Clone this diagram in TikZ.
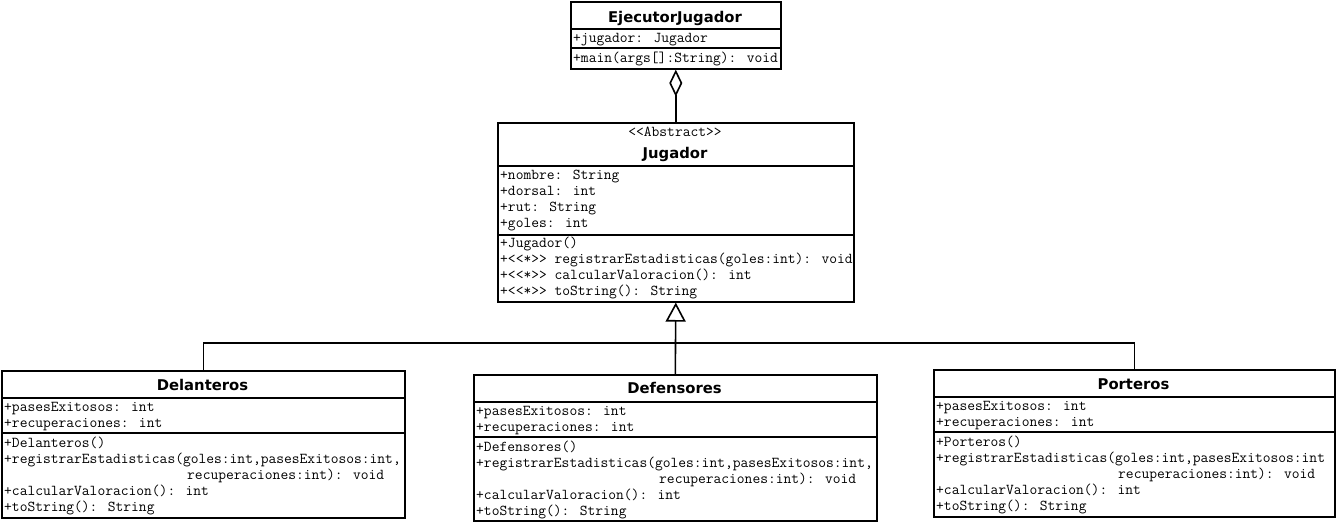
\documentclass[tikz,border=0pt]{standalone}
\usepackage{fontspec}
\usetikzlibrary{arrows.meta}
\newfontfamily\umltitle{DejaVu Sans}
\newcommand\umlln[4]{\node[mono,anchor=base west] (#1) at (#2,#3) {#4};}
\newcommand\umlttl[4]{\node[ttl,anchor=base] (#1) at (#2,#3) {#4};}
\begin{document}
\begin{tikzpicture}[x=1pt,y=-1pt,
  cls/.style={draw,line width=1.6pt,fill=white,inner sep=0pt,anchor=north west},
  sep/.style={line width=1.6pt},
  mono/.style={inner sep=0pt,font=\ttfamily\fontsize{15.1}{16}\selectfont},
  ttl/.style={inner sep=0pt,font=\umltitle\bfseries\fontsize{14.8}{16}\selectfont},
  conn/.style={line width=1.6pt},
  agg/.style={conn,{Diamond[open,length=27pt,width=13pt,line width=1.6pt]}-},
  gen/.style={conn,-{Triangle[open,length=19pt,width=20pt,line width=1.6pt]}}]
\useasboundingbox (0,0) rectangle (1336,522);
\fill[white] (0,0) rectangle (1336,522);

% EjecutorJugador
\node[cls,minimum width=210pt,minimum height=67pt] (ej) at (570,1) {};
\umlttl{ej-t}{675}{22}{EjecutorJugador}
\draw[sep] (ej.west |- 0,29) -- (ej.east |- 0,29);
\draw[sep] (ej.west |- 0,48) -- (ej.east |- 0,48);
\umlln{ej-a1}{573}{42.5}{+jugador: Jugador}
\umlln{ej-m1}{573}{62.5}{+main(args[]:String): void}

% Jugador
\node[cls,minimum width=356pt,minimum height=179pt] (jug) at (497,122) {};
\node[mono,anchor=base] (jug-s) at (675,136) {<{}<Abstract>{}>};
\umlttl{jug-t}{675}{158}{Jugador}
\draw[sep] (jug.west |- 0,166) -- (jug.east |- 0,166);
\draw[sep] (jug.west |- 0,235) -- (jug.east |- 0,235);
\umlln{jug-a1}{500}{179.5}{+nombre: String}
\umlln{jug-a2}{500}{195.5}{+dorsal: int}
\umlln{jug-a3}{500}{211.5}{+rut: String}
\umlln{jug-a4}{500}{227.5}{+goles: int}
\umlln{jug-m1}{500}{247.5}{+Jugador()}
\umlln{jug-m2}{500}{263.5}{+<{}<*>{}> registrarEstadisticas(goles:int): void}
\umlln{jug-m3}{500}{279.5}{+<{}<*>{}> calcularValoracion(): int}
\umlln{jug-m4}{500}{295.5}{+<{}<*>{}> toString(): String}

% Delanteros
\node[cls,minimum width=403pt,minimum height=147pt] (del) at (1,370) {};
\umlttl{del-t}{202.5}{390}{Delanteros}
\draw[sep] (del.west |- 0,398) -- (del.east |- 0,398);
\draw[sep] (del.west |- 0,433) -- (del.east |- 0,433);
\umlln{del-a1}{4}{411.5}{+pasesExitosos: int}
\umlln{del-a2}{4}{427.5}{+recuperaciones: int}
\umlln{del-m1}{4}{447.5}{+Delanteros()}
\umlln{del-m2}{4}{463.5}{+registrarEstadisticas(goles:int,pasesExitosos:int,}
\umlln{del-m3}{187}{479.5}{recuperaciones:int): void}
\umlln{del-m4}{4}{495.5}{+calcularValoracion(): int}
\umlln{del-m5}{4}{511.5}{+toString(): String}

% Defensores
\node[cls,minimum width=403pt,minimum height=146pt] (def) at (473,374) {};
\umlttl{def-t}{674.5}{393}{Defensores}
\draw[sep] (def.west |- 0,402) -- (def.east |- 0,402);
\draw[sep] (def.west |- 0,437) -- (def.east |- 0,437);
\umlln{def-a1}{476}{415.5}{+pasesExitosos: int}
\umlln{def-a2}{476}{431.5}{+recuperaciones: int}
\umlln{def-m1}{476}{451.5}{+Defensores()}
\umlln{def-m2}{476}{467.5}{+registrarEstadisticas(goles:int,pasesExitosos:int,}
\umlln{def-m3}{659}{483.5}{recuperaciones:int): void}
\umlln{def-m4}{476}{499.5}{+calcularValoracion(): int}
\umlln{def-m5}{476}{515.5}{+toString(): String}

% Porteros
\node[cls,minimum width=401pt,minimum height=147pt] (por) at (933,369) {};
\umlttl{por-t}{1133.5}{389}{Porteros}
\draw[sep] (por.west |- 0,397) -- (por.east |- 0,397);
\draw[sep] (por.west |- 0,432) -- (por.east |- 0,432);
\umlln{por-a1}{936}{410.5}{+pasesExitosos: int}
\umlln{por-a2}{936}{426.5}{+recuperaciones: int}
\umlln{por-m1}{936}{446.5}{+Porteros()}
\umlln{por-m2}{936}{462.5}{+registrarEstadisticas(goles:int,pasesExitosos:int}
\umlln{por-m3}{1118}{478.5}{recuperaciones:int): void}
\umlln{por-m4}{936}{494.5}{+calcularValoracion(): int}
\umlln{por-m5}{936}{510.5}{+toString(): String}

% connectors
\draw[agg] (ej.south) -- (jug.north);
\coordinate (bus) at (675,343);
\draw[gen] (def.north) -- (jug.south);
\draw[conn] (del.north) |- (bus);
\draw[conn] (por.north) |- (bus);
\end{tikzpicture}
\end{document}
